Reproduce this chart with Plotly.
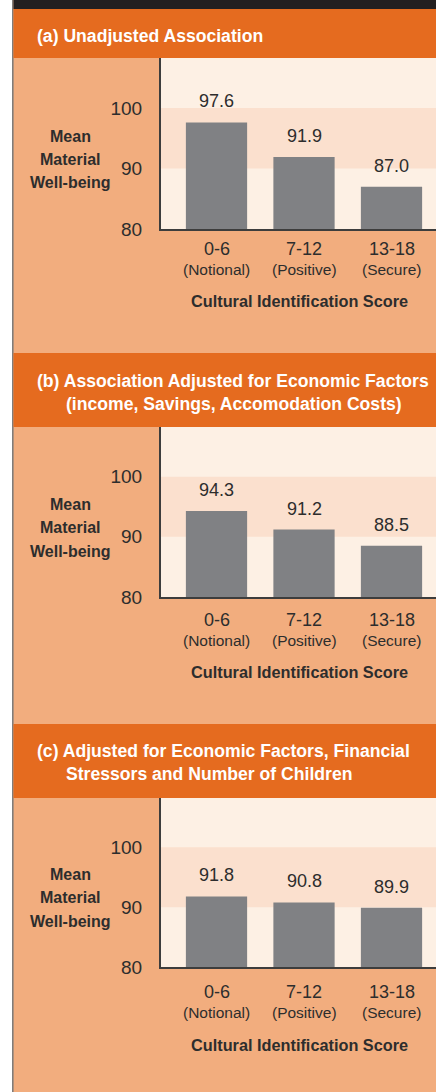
import plotly.graph_objects as go

# ---------------- data ----------------
categories = ["0-6", "7-12", "13-18"]
category_notes = ["(Notional)", "(Positive)", "(Secure)"]
values_a = [97.6, 91.9, 87.0]
values_b = [94.3, 91.2, 88.5]
values_c = [91.8, 90.8, 89.9]
y_ticks = [80, 90, 100]
y_title_lines = ["Mean", "Material", "Well-being"]
x_title = "Cultural Identification Score"
titles_a = ["(a) Unadjusted Association"]
titles_b = ["(b) Association Adjusted for Economic Factors",
            "(income, Savings, Accomodation Costs)"]
titles_c = ["(c) Adjusted for Economic Factors, Financial",
            "Stressors and Number of Children"]

# ---------------- styling / layout ----------------
W, H = 436, 1092
FONT = "Liberation Sans, Arial, sans-serif"
DARK = "#231F20"
ORANGE = "#E56B1F"
LIGHT = "#F2AD7E"
PLOTBG = "#FDF0E4"
BAND = "#FBE0CE"
BAR = "#808184"
TXT = "#2d2d2d"

def py(px):  # pixel y -> paper y
    return 1 - px / H

def pxx(px):
    return px / W

panels = [
    dict(vals=values_a, titles=titles_a, band=(9, 58), title_y=[36], top=58, bottom=229,
         off=(20, 40, 72)),
    dict(vals=values_b, titles=titles_b, band=(353, 427), title_y=[381, 404], top=427, bottom=597,
         off=(23, 43, 75)),
    dict(vals=values_c, titles=titles_c, band=(724, 798), title_y=[751, 774], top=798, bottom=967,
         off=(25, 45, 78)),
]

fig = go.Figure()
shapes = []
annotations = []

# left white strip, border line, top dark bar
shapes.append(dict(type="rect", xref="paper", yref="paper", x0=0, x1=pxx(12), y0=0, y1=1,
                   fillcolor="white", line=dict(width=0), layer="below"))
shapes.append(dict(type="line", xref="paper", yref="paper", x0=pxx(12.8), x1=pxx(12.8), y0=0, y1=1,
                   line=dict(color="#7a7a7a", width=1.5), layer="below"))
shapes.append(dict(type="rect", xref="paper", yref="paper", x0=pxx(13.5), x1=1, y0=py(9), y1=1,
                   fillcolor=DARK, line=dict(width=0), layer="below"))

x_left_px = 160.7
x_domain = [pxx(x_left_px), 1]
cat_spacing = 87.5
first_center = 216.5
x_range = [(x_left_px - first_center) / cat_spacing, (W - first_center) / cat_spacing]
y_range = [80, 108.25]

for i, p in enumerate(panels):
    n = "" if i == 0 else str(i + 1)
    xa, ya = "x" + n, "y" + n
    # title band
    shapes.append(dict(type="rect", xref="paper", yref="paper", x0=pxx(13.5), x1=1,
                       y0=py(p["band"][1]), y1=py(p["band"][0]),
                       fillcolor=ORANGE, line=dict(width=0), layer="below"))
    for j, (t, ty) in enumerate(zip(p["titles"], p["title_y"])):
        annotations.append(dict(xref="paper", yref="paper", x=pxx(35 if j == 0 else 64), y=py(ty),
                                xanchor="left", yanchor="middle", showarrow=False, text=t,
                                font=dict(family=FONT, size=17.6, color="white", weight="bold")))
    # bars
    fig.add_trace(go.Bar(x=categories, y=p["vals"], width=0.7, marker=dict(color=BAR, line=dict(width=0)),
                         xaxis=xa, yaxis=ya, showlegend=False, hoverinfo="skip"))
    # 90-100 band
    shapes.append(dict(type="rect", xref=xa + " domain", yref=ya, x0=0, x1=1, y0=90, y1=100,
                       fillcolor=BAND, line=dict(width=0), layer="below"))
    # value labels
    for c, v in zip(categories, p["vals"]):
        annotations.append(dict(xref=xa, yref=ya, x=c, y=v, yshift=21, xanchor="center",
                                yanchor="middle", showarrow=False, text=f"{v:.1f}",
                                font=dict(family=FONT, size=18, color=TXT)))
    # category labels
    b = p["bottom"]
    for c, note in zip(categories, category_notes):
        annotations.append(dict(xref=xa, yref="paper", x=c, y=py(b + p["off"][0]), xanchor="center",
                                yanchor="middle", showarrow=False, text=c,
                                font=dict(family=FONT, size=18, color=TXT)))
        annotations.append(dict(xref=xa, yref="paper", x=c, y=py(b + p["off"][1]), xanchor="center",
                                yanchor="middle", showarrow=False, text=note,
                                font=dict(family=FONT, size=15.5, color=TXT)))
    annotations.append(dict(xref="paper", yref="paper", x=pxx(299), y=py(b + p["off"][2]),
                            xanchor="center", yanchor="middle", showarrow=False, text=x_title,
                            font=dict(family=FONT, size=16.3, color=TXT, weight="bold")))
    # y title
    for k, line in enumerate(y_title_lines):
        annotations.append(dict(xref="paper", yref="paper", x=pxx(70), y=py(b - 93 + 23.5 * k),
                                xanchor="center", yanchor="middle", showarrow=False, text=line,
                                font=dict(family=FONT, size=16, color=TXT, weight="bold")))

    layout_x = dict(domain=x_domain, range=x_range, type="category", anchor=ya, automargin=False,
                    showticklabels=False, ticks="", showgrid=False, zeroline=False,
                    showline=True, linecolor="#3d3d3d", linewidth=1.5, fixedrange=True)
    layout_y = dict(domain=[py(p["bottom"]), py(p["top"])], range=y_range, anchor=xa, automargin=False,
                    tickvals=y_ticks, ticks="", showgrid=False, zeroline=False,
                    showline=True, linecolor="#3d3d3d", linewidth=1.5,
                    tickfont=dict(family=FONT, size=19, color=TXT), ticklabelstandoff=13,
                    fixedrange=True)
    fig.update_layout(**{"xaxis" + n: layout_x, "yaxis" + n: layout_y})

fig.update_layout(
    width=W, height=H,
    margin=dict(l=0, r=0, t=0, b=0, pad=0, autoexpand=False),
    paper_bgcolor=LIGHT, plot_bgcolor=PLOTBG,
    shapes=shapes, annotations=annotations,
    bargap=0.3, showlegend=False,
)

fig.write_html(
    "out.html",
    config=dict(displayModeBar=False),
    post_script="document.body.style.margin='0';document.body.style.overflow='hidden';",
)
